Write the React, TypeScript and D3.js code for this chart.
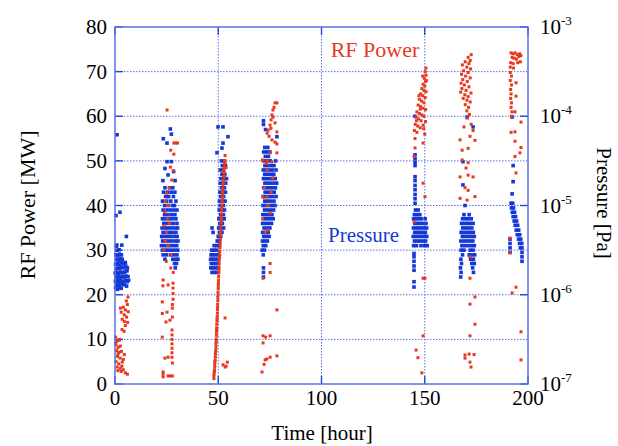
import React from 'react';
import * as d3 from 'd3';

type Pt = [number, number];

// RF power [MW] against time [hour], one list per conditioning run
const powerRun1: Pt[] = [
  [6.3, 19.5], [5.5, 18.6], [6.0, 17.8], [4.0, 17.2], [5.0, 16.6], [3.0, 16.1], [4.5, 15.5], [5.6, 15.0],
  [3.5, 14.5], [4.5, 14.0], [6.1, 13.8], [5.0, 13.1], [3.4, 12.2], [4.4, 11.8], [2.6, 17.0], [6.4, 16.2],
  [0.3, 10.5], [1.0, 9.6], [2.1, 9.8], [0.5, 8.8], [1.5, 8.2], [2.6, 8.5], [0.8, 7.5], [2.0, 7.1],
  [3.1, 7.3], [1.2, 6.2], [2.5, 5.8], [4.0, 5.5], [0.5, 5.0], [1.8, 4.5], [3.5, 4.9], [1.0, 3.8],
  [2.5, 3.5], [4.0, 3.2], [3.0, 2.8], [5.0, 2.5], [6.0, 2.2], [1.5, 6.8], [2.2, 10.0], [4.5, 6.6],
  [0.2, 9.2], [3.3, 4.0], [1.4, 3.0],
];
const powerRun2: Pt[] = [
  [25.2, 61.4], [28.5, 54], [29.4, 54], [30.3, 54], [27.0, 52.4], [28.5, 51.5], [26.8, 48.6], [28.2, 47.8],
  [27.5, 45.7], [26.2, 44], [25.0, 42.8], [24.5, 41], [25.8, 40], [24.0, 38.5], [25.3, 37], [23.8, 35.5],
  [25.0, 34], [26.3, 36], [24.4, 32], [23.6, 30], [25.7, 31], [27.2, 29], [24.8, 27.5], [27.0, 26], [28.2, 25],
  [23.3, 23.3], [23.2, 22.0], [28.1, 22.6], [28.1, 21.5], [28.1, 20.3], [28.1, 19.0], [25.7, 22.2],
  [22.9, 18.4], [27.8, 17.8], [27.8, 17], [25.2, 16.1], [22.9, 15.8], [27.8, 15], [24.7, 13.9], [26.6, 14.3],
  [27.6, 12.1], [27.6, 11], [27.6, 10], [27.6, 9], [27.6, 8], [27.6, 7], [27.6, 6], [22.9, 10.5],
  [24.2, 5.8], [25.7, 6], [27.8, 4.7], [23.3, 2.7], [25.7, 1.8], [26.6, 1.8], [27.8, 1.8], [23.3, 1.6], [23.3, 2.2],
];
const powerRun3: Pt[] = [
  [47.9, 1.2], [47.9, 1.8], [48.0, 2.3], [48.1, 2.8], [48.2, 3.2], [48.3, 3.9], [48.3, 4.5], [48.4, 5.0],
  [48.5, 5.4], [48.6, 6.1], [48.6, 6.7], [48.7, 7.2], [48.8, 7.7], [48.9, 8.4], [48.9, 9.1], [49.0, 9.6],
  [49.0, 10.1], [49.1, 10.9], [49.1, 11.6], [49.2, 12.1], [49.2, 12.6], [49.3, 13.4], [49.4, 14.1], [49.4, 14.6],
  [49.5, 15.2], [49.6, 15.9], [49.6, 16.7], [49.7, 17.3], [49.7, 17.9], [49.8, 18.7], [49.8, 19.4], [49.9, 20.0],
  [49.9, 20.6], [50.0, 21.4], [50.0, 22.1], [50.1, 22.7], [50.1, 23.3], [50.2, 24.1], [50.3, 24.9], [50.3, 25.5],
  [50.4, 26.1], [50.5, 26.9], [50.5, 27.7], [50.6, 28.3], [50.7, 28.9], [50.7, 29.7], [50.8, 30.5], [50.9, 31.1],
  [50.9, 31.7], [51.0, 32.5], [51.0, 33.3], [51.1, 33.9], [51.2, 34.5], [51.3, 35.3], [51.3, 36.1], [51.4, 36.7],
  [51.5, 37.3], [51.6, 38.1], [51.6, 38.9], [51.7, 39.5], [51.8, 40.1], [51.9, 40.9], [52.0, 41.7], [52.1, 42.3],
  [52.1, 42.9], [52.2, 43.7], [52.3, 44.5], [52.4, 45.1], [52.5, 45.7], [52.6, 46.5], [52.7, 47.3], [52.8, 47.9],
  [52.9, 48.5], [53.0, 49.3], [53.1, 50.1], [53.3, 51.2],
  [53.3, 49.7], [52.3, 47.6], [53.8, 48.5], [53.0, 46.5], [52.0, 43.5],
  [53.3, 14.8], [52.3, 4.3], [53.3, 3.8], [54.4, 4.9], [53.8, 4.0],
];
const powerRun4: Pt[] = [
  [78.4, 63], [77.5, 63], [77.0, 62], [76.5, 61.4], [76.0, 60.3], [76.5, 59.8], [75.6, 59.2], [75.1, 58],
  [75.5, 57.3], [74.2, 56.9], [73.7, 56.2], [77.5, 58.5], [78.4, 56.5], [74.6, 55.5], [76.0, 54.7], [77.5, 54.2],
  [78.4, 53.8], [75.1, 51.8], [78.4, 51.8], [71.7, 50], [71.4, 50.2], [73.7, 50.0], [76.0, 49.8], [73.2, 49.4],
  [73.7, 48], [76.5, 46.2], [72.2, 44], [75.5, 43], [71.7, 41.9], [73.7, 41.9], [74.0, 40], [75.1, 38.3],
  [71.5, 37], [74.2, 34.5], [72.7, 34],
  [75.1, 27], [75.1, 25], [71.7, 23.7], [78.4, 16.6], [71.7, 10.8], [75.1, 10.8], [73.0, 10.5], [71.7, 9.2],
  [71.2, 2.7], [72.7, 5.4], [75.1, 6], [78.4, 6.3], [73.5, 5.6], [72.2, 4.4],
];
const powerRun5: Pt[] = [
  [150.6, 70.8], [150.2, 70], [150.6, 69.2], [149.8, 68.5], [150.4, 67.8], [149.2, 67.2], [150.0, 66.8],
  [148.6, 66.2], [149.6, 65.8], [150.6, 65.5], [148.0, 65.0], [149.0, 64.6], [150.2, 64.2], [147.4, 63.8],
  [148.5, 63.4], [149.6, 63.0], [146.8, 62.5], [148.0, 62.2], [149.2, 61.8], [150.4, 61.5], [146.2, 61.0],
  [147.4, 60.6], [148.6, 60.3], [145.8, 59.8], [147.0, 59.4], [148.2, 59.0], [150.4, 58.8], [145.4, 58.2],
  [146.6, 57.8], [147.8, 57.4], [149.5, 57.2], [145.0, 56.8], [146.2, 56.4], [150.0, 56.0], [149.2, 58.0],
  [150.8, 68.0], [149.0, 69.0], [147.2, 64.6], [146.0, 59.0], [149.6, 60.0], [147.8, 61.6],
  [145.3, 55], [145.3, 52.9], [149.2, 54], [144.8, 51], [149.2, 45], [150.1, 42], [144.8, 36.3],
  [149.2, 23.7], [150.1, 23.7], [149.2, 10.8], [145.8, 7.6], [146.7, 5.9], [148.6, 2.5],
];
const powerRun6: Pt[] = [
  [172.5, 73.8], [171.0, 73.2], [172.0, 72.5], [169.6, 72.2], [171.4, 71.8], [168.2, 71.5], [170.4, 71.0],
  [172.2, 70.6], [168.8, 70.2], [171.0, 69.8], [167.8, 69.4], [169.8, 69.0], [172.0, 68.6], [168.4, 68.2],
  [170.6, 67.8], [167.6, 67.4], [169.2, 67.0], [171.4, 66.6], [168.0, 66.2], [170.0, 65.8], [167.4, 65.4],
  [172.4, 65.2], [169.4, 64.8], [171.0, 64.4], [168.6, 64.0], [170.4, 63.6], [172.0, 63.2], [169.6, 62.6],
  [171.2, 62.0], [170.4, 61.2], [171.6, 60.4], [170.6, 59.6],
  [167.1, 54.7], [174.3, 54.6], [171.9, 55.5], [168.1, 52.4], [168.1, 50.2], [171.0, 49.6], [167.1, 46.4],
  [171.0, 46.8], [173.4, 46.4], [169.5, 44.0], [171.0, 43.4], [174.3, 42.0], [167.1, 41.6], [170.5, 41.2],
  [169.0, 57.6], [172.5, 58.2], [173.4, 56.8], [171.0, 52.8], [170.0, 48.4], [171.9, 28.5],
  [171.9, 23.7], [174.3, 19.5], [171.9, 17.9], [174.3, 13.4], [171.9, 10.8], [169.5, 6.5], [171.5, 6.7],
  [173.9, 6.6], [169.5, 5.8], [171.9, 4.9], [172.4, 3.8],
];
const powerRun7: Pt[] = [
  [191.8, 74.2], [192.8, 74.0], [193.8, 74.2], [194.8, 73.8], [196.0, 74.0], [192.3, 73.2], [193.3, 73.0],
  [194.4, 72.8], [195.6, 73.4], [196.6, 73.6], [191.6, 72.0], [192.8, 71.8], [195.0, 72.0], [196.3, 72.2],
  [191.4, 71.0], [193.0, 70.8], [191.4, 69.8], [192.0, 69.0], [191.4, 68.0], [192.0, 67.0], [191.6, 66.0],
  [191.8, 65.0], [191.6, 64.0], [192.0, 63.0], [191.8, 62.0], [192.2, 61.0], [192.0, 60.0],
  [194.2, 67.5], [194.2, 64.5], [193.7, 61], [196.6, 58.7], [193.7, 56.5], [191.8, 56.4], [193.7, 54.4],
  [196.6, 53], [196.1, 51.8], [193.7, 51], [194.2, 47.3], [191.3, 32.7], [191.3, 29.4], [194.2, 21.7],
  [192.3, 20.4], [196.6, 11.7], [196.6, 5.4],
];

// Pressure [Pa] against time [hour]
const pressureRun1: Pt[] = [
  [0.3, 1.2e-6], [1.2, 1.15e-6], [2.1, 1.2e-6], [3.0, 1.18e-6], [0.6, 1.3e-6], [1.6, 1.28e-6], [2.6, 1.32e-6],
  [3.6, 1.3e-6], [4.6, 1.3e-6], [5.6, 1.25e-6], [0.2, 1.42e-6], [1.1, 1.45e-6], [2.0, 1.4e-6], [2.9, 1.44e-6],
  [3.9, 1.4e-6], [4.9, 1.45e-6], [5.9, 1.4e-6], [6.6, 1.45e-6], [0.5, 1.58e-6], [1.5, 1.6e-6], [2.4, 1.55e-6],
  [3.4, 1.6e-6], [4.4, 1.58e-6], [5.3, 1.62e-6], [6.3, 1.6e-6], [0.1, 1.75e-6], [1.0, 1.78e-6], [1.9, 1.72e-6],
  [2.8, 1.8e-6], [3.8, 1.76e-6], [4.8, 1.8e-6], [5.8, 1.85e-6], [0.6, 1.95e-6], [1.5, 2.0e-6], [2.4, 1.98e-6],
  [3.3, 2.05e-6], [4.3, 2.0e-6], [5.2, 2.1e-6], [6.0, 2.0e-6], [0.3, 2.2e-6], [1.2, 2.25e-6], [2.1, 2.2e-6],
  [3.0, 2.3e-6], [4.0, 2.25e-6], [5.0, 2.3e-6], [0.8, 2.5e-6], [1.7, 2.45e-6], [2.6, 2.55e-6], [3.5, 2.5e-6],
  [0.4, 2.8e-6], [1.3, 2.75e-6], [2.2, 2.85e-6], [3.1, 2.8e-6], [1.0, 3.15e-6], [2.0, 3.2e-6], [0.6, 3.5e-6],
  [1.0, 6.2e-5], [2.4, 8.4e-6], [0.5, 7.7e-6], [5.5, 4.5e-6], [0.9, 3.6e-6], [3.3, 3.6e-6],
];
const pressureRun2: Pt[] = [
  [26.8, 7.2e-5], [27.3, 6.3e-5], [23.4, 5.6e-5], [25.2, 5.0e-5], [27.3, 3.1e-5], [25.2, 3.1e-5], [24.2, 2.6e-5],
  [28.4, 2.4e-5], [25.7, 2.2e-5], [23.2, 1.9e-5], [29.1, 1.9e-5],
  [24.2, 1.58e-5], [26.5, 1.58e-5], [28.0, 1.58e-5], [23.5, 1.41e-5], [25.5, 1.41e-5], [27.2, 1.41e-5], [29.0, 1.41e-5],
  [24.5, 1.26e-5], [26.0, 1.26e-5], [28.3, 1.26e-5], [23.0, 1.12e-5], [25.0, 1.12e-5], [27.0, 1.12e-5], [29.5, 1.12e-5],
  [24.0, 1.0e-5], [25.8, 1.0e-5], [27.8, 1.0e-5], [28.8, 1.0e-5], [23.3, 8.9e-6], [25.2, 8.9e-6], [26.8, 8.9e-6],
  [28.5, 8.9e-6], [30.0, 8.9e-6], [24.0, 7.9e-6], [25.6, 7.9e-6], [27.3, 7.9e-6], [29.0, 7.9e-6], [23.0, 7.1e-6],
  [24.5, 7.1e-6], [26.2, 7.1e-6], [27.8, 7.1e-6], [29.5, 7.1e-6], [23.6, 6.3e-6], [25.0, 6.3e-6], [26.6, 6.3e-6],
  [28.2, 6.3e-6], [30.0, 6.3e-6], [22.8, 5.6e-6], [24.3, 5.6e-6], [25.8, 5.6e-6], [27.4, 5.6e-6], [29.0, 5.6e-6],
  [30.3, 5.6e-6], [23.3, 5.0e-6], [24.8, 5.0e-6], [26.3, 5.0e-6], [27.9, 5.0e-6], [29.5, 5.0e-6], [22.6, 4.5e-6],
  [24.0, 4.5e-6], [25.5, 4.5e-6], [27.0, 4.5e-6], [28.6, 4.5e-6], [30.1, 4.5e-6], [23.1, 4.0e-6], [24.6, 4.0e-6],
  [26.1, 4.0e-6], [27.6, 4.0e-6], [29.2, 4.0e-6], [30.5, 4.0e-6], [22.5, 3.55e-6], [24.0, 3.55e-6], [25.4, 3.55e-6],
  [26.9, 3.55e-6], [28.4, 3.55e-6], [29.9, 3.55e-6], [23.0, 3.16e-6], [24.5, 3.16e-6], [26.0, 3.16e-6], [27.5, 3.16e-6],
  [29.0, 3.16e-6], [30.4, 3.16e-6], [23.3, 2.8e-6], [25.0, 2.8e-6], [27.0, 2.8e-6], [28.5, 2.8e-6], [30.0, 2.8e-6],
  [24.2, 2.5e-6], [28.0, 2.5e-6], [29.5, 2.5e-6], [30.5, 2.5e-6], [28.8, 2.24e-6], [29.8, 2.24e-6], [29.2, 2.0e-6],
];
const pressureRun3: Pt[] = [
  [49.9, 7.6e-5], [52.3, 7.6e-5], [54.7, 5.9e-5], [49.4, 3.9e-5], [52.3, 5.0e-5], [51.8, 4.4e-5],
  [51.5, 3.16e-5], [53.0, 3.16e-5], [52.0, 2.8e-5], [53.5, 2.8e-5], [51.0, 2.5e-5], [52.5, 2.5e-5],
  [51.8, 2.24e-5], [53.2, 2.24e-5], [51.3, 2.0e-5], [52.8, 2.0e-5], [54.0, 2.0e-5], [51.0, 1.78e-5],
  [52.3, 1.78e-5], [53.6, 1.78e-5], [51.5, 1.58e-5], [53.0, 1.58e-5], [50.8, 1.41e-5], [52.2, 1.41e-5],
  [53.5, 1.41e-5], [51.2, 1.26e-5], [52.6, 1.26e-5], [50.6, 1.12e-5], [52.0, 1.12e-5], [53.3, 1.12e-5],
  [51.0, 1.0e-5], [52.5, 1.0e-5], [50.5, 8.9e-6], [51.8, 8.9e-6], [53.0, 8.9e-6], [51.2, 7.9e-6], [52.5, 7.9e-6],
  [50.3, 7.1e-6], [51.6, 7.1e-6], [52.9, 7.1e-6], [50.8, 6.3e-6], [52.0, 6.3e-6], [50.2, 5.6e-6], [51.4, 5.6e-6],
  [52.6, 5.6e-6], [50.6, 5.0e-6], [51.8, 5.0e-6], [50.0, 4.5e-6], [51.2, 4.5e-6], [49.5, 4.0e-6], [50.6, 4.0e-6],
  [48.0, 3.55e-6], [49.2, 3.55e-6], [50.4, 3.55e-6], [47.5, 5.0e-6], [47.0, 5.6e-6],
  [46.8, 3.16e-6], [48.0, 3.16e-6], [49.2, 3.16e-6], [46.5, 2.8e-6], [47.6, 2.8e-6], [48.8, 2.8e-6], [50.0, 2.8e-6],
  [46.3, 2.5e-6], [47.3, 2.5e-6], [48.4, 2.5e-6], [49.5, 2.5e-6], [46.6, 2.24e-6], [47.7, 2.24e-6], [48.8, 2.24e-6],
  [49.8, 2.24e-6], [46.4, 2.0e-6], [47.5, 2.0e-6], [48.6, 2.0e-6], [49.6, 2.0e-6], [47.0, 1.78e-6], [48.2, 1.78e-6],
  [49.3, 1.78e-6],
];
const pressureRun4: Pt[] = [
  [71.9, 8.9e-5], [71.9, 8.1e-5], [72.9, 7.1e-5], [78.4, 5.9e-5],
  [72.5, 4.47e-5], [74.0, 4.47e-5], [72.0, 3.98e-5], [73.5, 3.98e-5], [75.0, 3.98e-5], [72.8, 3.55e-5], [74.3, 3.55e-5],
  [72.2, 3.16e-5], [73.7, 3.16e-5], [75.2, 3.16e-5], [77.8, 3.16e-5], [72.6, 2.8e-5], [74.0, 2.8e-5], [75.6, 2.8e-5],
  [77.0, 2.8e-5], [71.8, 2.5e-5], [73.2, 2.5e-5], [74.7, 2.5e-5], [76.3, 2.5e-5], [78.0, 2.5e-5], [72.5, 2.24e-5],
  [74.0, 2.24e-5], [75.4, 2.24e-5], [76.9, 2.24e-5], [71.9, 2.0e-5], [73.3, 2.0e-5], [74.8, 2.0e-5], [76.2, 2.0e-5],
  [77.6, 2.0e-5], [72.6, 1.78e-5], [74.0, 1.78e-5], [75.5, 1.78e-5], [77.0, 1.78e-5], [78.3, 1.78e-5], [72.0, 1.58e-5],
  [73.4, 1.58e-5], [74.9, 1.58e-5], [76.3, 1.58e-5], [77.7, 1.58e-5], [72.7, 1.41e-5], [74.2, 1.41e-5], [75.6, 1.41e-5],
  [77.1, 1.41e-5], [71.8, 1.26e-5], [73.3, 1.26e-5], [74.8, 1.26e-5], [76.4, 1.26e-5], [78.0, 1.26e-5], [72.5, 1.12e-5],
  [74.0, 1.12e-5], [75.5, 1.12e-5], [77.0, 1.12e-5], [71.7, 1.0e-5], [73.2, 1.0e-5], [74.7, 1.0e-5], [76.2, 1.0e-5],
  [77.5, 1.0e-5], [72.4, 8.9e-6], [73.8, 8.9e-6], [75.3, 8.9e-6], [76.8, 8.9e-6], [71.6, 7.9e-6], [73.0, 7.9e-6],
  [74.5, 7.9e-6], [76.0, 7.9e-6], [72.3, 7.1e-6], [73.7, 7.1e-6], [75.2, 7.1e-6], [76.6, 7.1e-6], [71.5, 6.3e-6],
  [72.9, 6.3e-6], [74.4, 6.3e-6], [75.8, 6.3e-6], [72.2, 5.6e-6], [73.6, 5.6e-6], [75.0, 5.6e-6], [71.5, 5.0e-6],
  [72.8, 5.0e-6], [74.2, 5.0e-6], [72.0, 4.5e-6], [73.3, 4.5e-6], [74.6, 4.5e-6], [71.4, 4.0e-6], [72.6, 4.0e-6],
  [73.8, 4.0e-6], [71.8, 3.55e-6], [73.0, 3.55e-6], [71.3, 3.16e-6], [72.4, 3.16e-6], [71.8, 2.8e-6],
  [71.9, 2.0e-6], [71.9, 1.78e-6], [71.9, 1.58e-6],
];
const pressureRun5: Pt[] = [
  [145.3, 1.0e-4], [145.3, 3.7e-5], [145.3, 3.35e-5], [145.3, 3.05e-5], [145.3, 2.8e-5],
  [145.3, 2.1e-5], [145.3, 1.9e-5], [145.3, 1.68e-5], [145.3, 1.5e-5], [145.3, 1.33e-5], [145.3, 1.19e-5], [145.3, 1.06e-5],
  [145.5, 8.9e-6], [146.8, 8.9e-6], [145.0, 7.9e-6], [146.3, 7.9e-6], [147.6, 7.9e-6], [144.6, 7.1e-6], [145.8, 7.1e-6],
  [147.0, 7.1e-6], [148.3, 7.1e-6], [150.2, 7.1e-6], [145.2, 6.3e-6], [146.4, 6.3e-6], [147.7, 6.3e-6], [149.0, 6.3e-6],
  [150.6, 6.3e-6], [144.5, 5.6e-6], [145.8, 5.6e-6], [147.0, 5.6e-6], [148.3, 5.6e-6], [149.6, 5.6e-6], [150.9, 5.6e-6],
  [145.1, 5.0e-6], [146.4, 5.0e-6], [147.7, 5.0e-6], [149.0, 5.0e-6], [150.3, 5.0e-6], [144.4, 4.5e-6], [145.7, 4.5e-6],
  [147.0, 4.5e-6], [148.4, 4.5e-6], [149.7, 4.5e-6], [151.0, 4.5e-6], [145.0, 4.0e-6], [146.3, 4.0e-6], [147.6, 4.0e-6],
  [149.0, 4.0e-6], [150.4, 4.0e-6], [144.6, 3.55e-6], [146.0, 3.55e-6], [148.2, 3.55e-6], [150.0, 3.55e-6], [151.2, 3.55e-6],
  [144.8, 2.9e-6], [144.8, 2.66e-6], [144.8, 2.37e-6], [144.8, 2.1e-6], [144.8, 1.88e-6], [144.8, 1.4e-6], [144.8, 1.22e-6],
];
const pressureRun6: Pt[] = [
  [170.5, 9.8e-5], [173.4, 7.6e-5], [168.5, 3.1e-5], [168.5, 1.7e-5], [169.5, 1.0e-5],
  [169.0, 7.9e-6], [171.5, 7.9e-6], [168.3, 7.1e-6], [169.8, 7.1e-6], [171.0, 7.1e-6], [172.5, 7.1e-6],
  [167.8, 6.3e-6], [169.2, 6.3e-6], [170.6, 6.3e-6], [172.0, 6.3e-6], [173.4, 6.3e-6], [168.4, 5.6e-6], [169.8, 5.6e-6],
  [171.2, 5.6e-6], [172.8, 5.6e-6], [167.6, 5.0e-6], [169.0, 5.0e-6], [170.5, 5.0e-6], [172.0, 5.0e-6], [173.5, 5.0e-6],
  [168.2, 4.5e-6], [169.6, 4.5e-6], [171.0, 4.5e-6], [172.5, 4.5e-6], [174.0, 4.5e-6], [167.5, 4.0e-6], [169.0, 4.0e-6],
  [170.4, 4.0e-6], [171.9, 4.0e-6], [173.3, 4.0e-6], [168.0, 3.55e-6], [169.5, 3.55e-6], [171.0, 3.55e-6], [172.6, 3.55e-6],
  [174.0, 3.55e-6], [167.6, 3.16e-6], [169.0, 3.16e-6], [172.0, 3.16e-6], [173.4, 3.16e-6], [168.3, 2.8e-6], [171.5, 2.8e-6],
  [172.8, 2.8e-6], [174.2, 2.8e-6], [167.5, 2.5e-6], [172.2, 2.5e-6], [173.6, 2.5e-6], [167.8, 2.24e-6], [172.8, 2.24e-6],
  [174.0, 2.24e-6], [167.3, 2.0e-6], [173.2, 2.0e-6], [167.6, 1.78e-6], [173.6, 1.78e-6], [167.4, 1.58e-6],
];
const pressureRun7: Pt[] = [
  [192.3, 9.8e-5], [192.8, 2.8e-5], [192.8, 1.85e-5], [192.3, 1.35e-5],
  [191.8, 1.06e-5], [192.6, 1.06e-5], [192.0, 9.4e-6], [193.0, 9.4e-6], [192.4, 8.4e-6], [193.5, 8.4e-6],
  [192.8, 7.5e-6], [194.0, 7.5e-6], [193.3, 6.7e-6], [194.5, 6.7e-6], [193.8, 6.0e-6], [195.0, 6.0e-6],
  [194.3, 5.3e-6], [195.5, 5.3e-6], [194.8, 4.7e-6], [196.0, 4.7e-6], [191.3, 4.2e-6], [195.4, 4.2e-6],
  [196.5, 4.2e-6], [191.3, 3.76e-6], [195.9, 3.76e-6], [197.0, 3.76e-6], [191.3, 3.35e-6], [196.3, 3.35e-6],
  [197.1, 3.35e-6], [191.3, 2.98e-6], [197.1, 2.98e-6], [197.1, 2.66e-6], [197.1, 2.37e-6],
];

const timeTicks = [0, 50, 100, 150, 200];
const powerTicks = [0, 10, 20, 30, 40, 50, 60, 70, 80];
const pressureTicks = [1e-7, 1e-6, 1e-5, 1e-4, 1e-3];
const pressureExp = ['-7', '-6', '-5', '-4', '-3'];

const powerPoints = [...powerRun1, ...powerRun2, ...powerRun3, ...powerRun4, ...powerRun5, ...powerRun6, ...powerRun7];
const pressurePoints = [
  ...pressureRun1, ...pressureRun2, ...pressureRun3, ...pressureRun4, ...pressureRun5, ...pressureRun6, ...pressureRun7,
];

const W = 618;
const H = 446;
const L = 115, R = 528, T = 27, B = 384;
const RED = '#e8381e';
const BLUE = '#1438d6';
const FRAME = '#5a70e4';
const FONT = '"Liberation Serif", "Times New Roman", serif';

export default function App() {
  const x = d3.scaleLinear().domain([0, 200]).range([L, R]);
  const yPow = d3.scaleLinear().domain([0, 80]).range([B, T]);
  const yPres = d3.scaleLog().domain([1e-7, 1e-3]).range([B, T]);

  return (
    <svg width={W} height={H} style={{ position: 'absolute', left: 0, top: 0, background: '#fff' }} fontFamily={FONT}>
      {/* dotted grid */}
      {powerTicks.slice(1, -1).map((v) => (
        <line key={'gy' + v} x1={L} x2={R} y1={yPow(v)} y2={yPow(v)} stroke="#5d72e6" strokeWidth={1} strokeDasharray="1.5,1.5" />
      ))}
      {timeTicks.slice(1, -1).map((t) => (
        <line key={'gx' + t} x1={x(t)} x2={x(t)} y1={T} y2={B} stroke="#5d72e6" strokeWidth={1} strokeDasharray="1.5,1.5" />
      ))}

      {/* inward ticks */}
      {powerTicks.map((v) => (
        <line key={'tl' + v} x1={L} x2={L + 8} y1={yPow(v)} y2={yPow(v)} stroke="#2444d8" strokeWidth={1.4} />
      ))}
      {pressureTicks.map((p) => (
        <line key={'tr' + p} x1={R - 8} x2={R} y1={yPres(p)} y2={yPres(p)} stroke="#2444d8" strokeWidth={1.4} />
      ))}
      {timeTicks.map((t) => (
        <g key={'tx' + t}>
          <line x1={x(t)} x2={x(t)} y1={B} y2={B - 8} stroke="#2444d8" strokeWidth={1.4} />
          <line x1={x(t)} x2={x(t)} y1={T} y2={T + 8} stroke="#2444d8" strokeWidth={1.4} />
        </g>
      ))}

      {/* data */}
      {pressurePoints.map(([t, p], i) => (
        <rect key={'p' + i} x={x(t) - 1.8} y={yPres(p) - 1.8} width={3.6} height={3.6} fill={BLUE} />
      ))}
      {powerPoints.map(([t, v], i) => (
        <rect key={'w' + i} x={x(t) - 1.5} y={yPow(v) - 1.5} width={3} height={3} fill={RED} />
      ))}

      <rect x={L} y={T} width={R - L} height={B - T} fill="none" stroke={FRAME} strokeWidth={1.5} />

      {/* left tick labels */}
      {powerTicks.map((v) => (
        <text key={'ll' + v} x={L - 8} y={yPow(v) + 7} textAnchor="end" fontSize={21} fill="#000">{v}</text>
      ))}
      {/* bottom tick labels */}
      {timeTicks.map((t) => (
        <text key={'bl' + t} x={x(t)} y={B + 21} textAnchor="middle" fontSize={21} fill="#000">{t}</text>
      ))}
      {/* right tick labels */}
      {pressureTicks.map((p, i) => (
        <text key={'rl' + p} x={R + 12} y={yPres(p) + 7} fontSize={21} fill="#000">
          10<tspan dy={-9} fontSize={13}>{pressureExp[i]}</tspan>
        </text>
      ))}

      {/* axis titles */}
      <text x={322} y={440} textAnchor="middle" fontSize={21} fill="#000">Time [hour]</text>
      <text transform={`translate(35,205) rotate(-90)`} textAnchor="middle" fontSize={22} fill="#000">RF Power [MW]</text>
      <text transform={`translate(597,203) rotate(90)`} textAnchor="middle" fontSize={21} fill="#000">Pressure [Pa]</text>

      {/* series labels */}
      <text x={375} y={57} textAnchor="middle" fontSize={22} fill={RED}>RF Power</text>
      <text x={328} y={242} fontSize={21} fill={BLUE}>Pressure</text>
    </svg>
  );
}
